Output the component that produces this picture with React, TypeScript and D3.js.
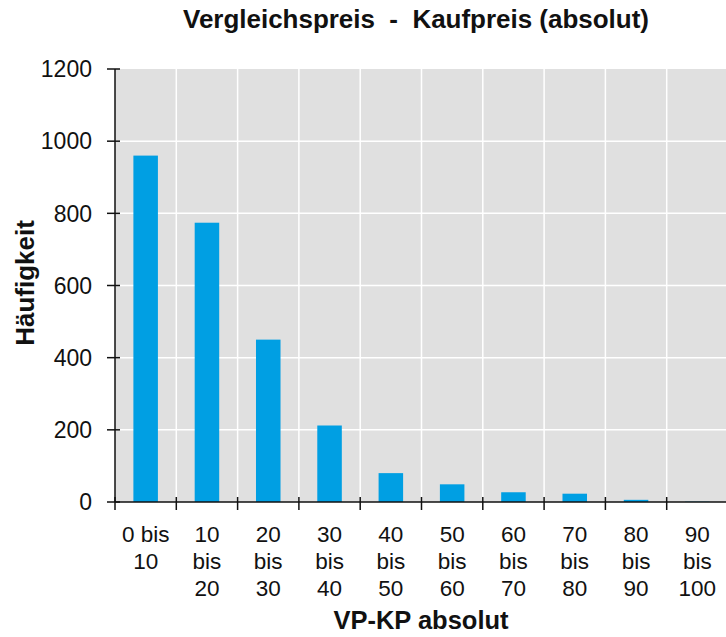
import React, { useEffect, useRef } from "react";
import * as d3 from "d3";

const categories = ["0 bis 10", "10 bis 20", "20 bis 30", "30 bis 40", "40 bis 50", "50 bis 60", "60 bis 70", "70 bis 80", "80 bis 90", "90 bis 100"];
const counts = [960, 774, 450, 212, 80, 49, 27, 23, 6, 1];
const yTicks = [0, 200, 400, 600, 800, 1000, 1200];
const title = "Vergleichspreis  -  Kaufpreis (absolut)";
const xTitle = "VP-KP absolut";
const yTitle = "Häufigkeit";

const W = 726, H = 637;
const M = { left: 115, right: 728, top: 69, bottom: 502 };
const FONT = "'Liberation Sans', Arial, sans-serif";

export default function App() {
  const ref = useRef<SVGSVGElement>(null);
  useEffect(() => {
    const svg = d3.select(ref.current);
    svg.selectAll("*").remove();
    const x = d3.scaleBand<string>().domain(categories).range([M.left, M.right]).padding(0);
    const y = d3.scaleLinear().domain([0, 1200]).range([M.bottom, M.top]);

    svg.append("rect").attr("x", M.left).attr("y", M.top).attr("width", M.right - M.left).attr("height", M.bottom - M.top).attr("fill", "#e0e0e0");

    // grid
    svg.append("g").selectAll("line").data(yTicks.filter(t => t > 0 && t < 1200)).join("line")
      .attr("x1", M.left).attr("x2", M.right).attr("y1", d => y(d)).attr("y2", d => y(d))
      .attr("stroke", "#fff").attr("stroke-width", 1.5);
    svg.append("g").selectAll("line").data(categories.slice(1)).join("line")
      .attr("x1", d => x(d)!).attr("x2", d => x(d)!).attr("y1", M.top).attr("y2", M.bottom)
      .attr("stroke", "#fff").attr("stroke-width", 1.5);

    // bars
    const bw = x.bandwidth() * 0.4;
    svg.append("g").selectAll("rect").data(categories).join("rect")
      .attr("x", d => x(d)! + x.bandwidth() / 2 - bw / 2)
      .attr("width", bw)
      .attr("y", (d, i) => y(counts[i]))
      .attr("height", (d, i) => M.bottom - y(counts[i]))
      .attr("fill", "#009fe3");

    // axes
    svg.append("line").attr("x1", M.left).attr("x2", M.left).attr("y1", M.top).attr("y2", M.bottom).attr("stroke", "#111").attr("stroke-width", 1.5);
    svg.append("line").attr("x1", M.left).attr("x2", W).attr("y1", M.bottom).attr("y2", M.bottom).attr("stroke", "#111").attr("stroke-width", 1.5);

    const yt = svg.append("g");
    yt.selectAll("line").data(yTicks).join("line")
      .attr("x1", M.left - 8).attr("x2", M.left + 5).attr("y1", d => y(d)).attr("y2", d => y(d))
      .attr("stroke", "#111").attr("stroke-width", 1.5);
    yt.selectAll("text").data(yTicks).join("text")
      .attr("x", 92).attr("y", d => y(d)).attr("dy", "0.36em").attr("text-anchor", "end")
      .attr("font-family", FONT).attr("font-size", 23).attr("fill", "#111").text(d => String(d));

    const xtPos = categories.map(c => x(c)!).concat([M.right]);
    svg.append("g").selectAll("line").data(xtPos.filter(p => p <= W)).join("line")
      .attr("x1", d => d).attr("x2", d => d).attr("y1", M.bottom - 5).attr("y2", M.bottom + 8)
      .attr("stroke", "#111").attr("stroke-width", 1.5);

    // x labels with wrapping
    const xl = svg.append("g");
    categories.forEach(c => {
      const t = xl.append("text").attr("x", x(c)! + x.bandwidth() / 2).attr("y", 542)
        .attr("text-anchor", "middle").attr("font-family", FONT).attr("font-size", 22.5).attr("fill", "#111");
      const words = c.split(" ");
      const lines: string[] = [];
      let cur = "";
      const probe = t.append("tspan");
      words.forEach(w => {
        const test = cur ? cur + " " + w : w;
        probe.text(test);
        if ((probe.node() as SVGTextContentElement).getComputedTextLength() > 55 && cur) {
          lines.push(cur);
          cur = w;
        } else cur = test;
      });
      if (cur) lines.push(cur);
      probe.remove();
      lines.forEach((l, i) => {
        t.append("tspan").attr("x", x(c)! + x.bandwidth() / 2).attr("y", 542 + i * 27).text(l);
      });
    });

    svg.append("text").attr("x", 416).attr("y", 28).attr("text-anchor", "middle")
      .attr("xml:space", "preserve").attr("textLength", 466).attr("lengthAdjust", "spacing")
      .attr("font-family", FONT).attr("font-weight", "bold").attr("font-size", 26).attr("fill", "#111").text(title);
    svg.append("text").attr("x", 421).attr("y", 629).attr("text-anchor", "middle")
      .attr("font-family", FONT).attr("font-weight", "bold").attr("font-size", 25.5).attr("fill", "#111").text(xTitle);
    svg.append("text").attr("transform", `translate(34,283) rotate(-90)`).attr("text-anchor", "middle")
      .attr("font-family", FONT).attr("font-weight", "bold").attr("font-size", 26).attr("fill", "#111").text(yTitle);
  }, []);
  return (
    <svg ref={ref} width={W} height={H} style={{ position: "absolute", left: 0, top: 0, background: "#fff" }} />
  );
}
